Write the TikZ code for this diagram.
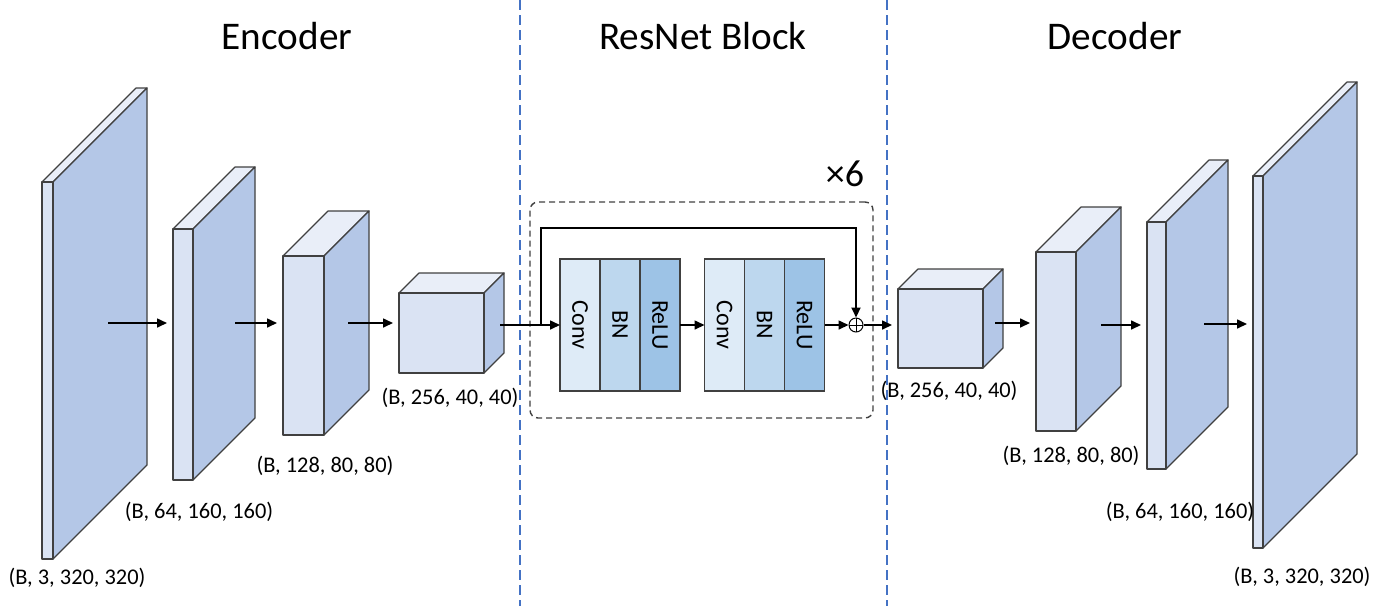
\documentclass[tikz,border=0pt]{standalone}
\usepackage{fontspec}
\setmainfont{Carlito}
\usepackage{graphicx}
\usetikzlibrary{arrows.meta,calc}
\definecolor{frontc}{HTML}{DAE3F3}
\definecolor{sidec}{HTML}{B4C7E7}
\definecolor{topc}{HTML}{E9EEF8}
\definecolor{edgec}{HTML}{404040}
\definecolor{convc}{HTML}{DEEBF7}
\definecolor{bnc}{HTML}{BDD7EE}
\definecolor{reluc}{HTML}{9DC3E6}
\definecolor{divc}{HTML}{4472C4}
\tikzset{
  face/.style={draw=edgec, line width=0.6pt, line join=round},
  arr/.style={line width=0.8pt, -{Triangle[length=5pt,width=4.5pt]}},
  gap/.style={shorten >=3pt},
  title/.style={font=\fontsize{19.6}{23}\selectfont, anchor=base, inner sep=0pt},
  dims/.style={font=\fontsize{11.2}{13}\selectfont, inner sep=0pt},
  layer/.style={draw=edgec, line width=0.6pt, minimum width=20pt, minimum height=66pt, inner sep=0pt, outer sep=0pt, font=\fontsize{12}{14}\selectfont},
  divider/.style={draw=divc, line width=0.7pt, dash pattern=on 5pt off 2.5pt},
  dashbox/.style={draw=edgec, line width=0.7pt, dash pattern=on 3pt off 2pt, rounded corners=4pt, minimum width=171.5pt, minimum height=108pt, inner sep=0pt}
}
\newcommand{\slab}[6]{%
  \filldraw[face,fill=topc] (#2,#3) -- (#4,#3) -- ++(#6,-#6) -- ++({#2-#4},0) -- cycle;
  \filldraw[face,fill=sidec] (#4,#3) -- ++(#6,-#6) -- ++(0,{#5-#3}) -- (#4,#5) -- cycle;
  \node[face,fill=frontc,inner sep=0pt,outer sep=0pt,minimum width={(#4-#2)*0.5pt},minimum height={(#5-#3)*0.5pt}] (#1) at ({(#2+#4)/2},{(#3+#5)/2}) {};
}
\begin{document}
\begin{tikzpicture}[x=0.5pt,y=-0.5pt]
\useasboundingbox (0,0) rectangle (1379,606);
% dividers
\coordinate (v1t) at (520,0); \coordinate (v1b) at (520,606);
\coordinate (v2t) at (887,0); \coordinate (v2b) at (887,606);
\draw[divider] (v1t) -- (v1b);
\draw[divider] (v2t) -- (v2b);
% titles
\node[title] (tenc) at (287,49) {Encoder};
\node[title] (tres) at (703,49) {ResNet Block};
\node[title] (tdec) at (1115,49) {Decoder};
% encoder
\slab{e1}{42}{182}{53}{559}{94}
\slab{e2}{173}{229}{193}{480}{62}
\slab{e3}{283}{256}{324}{435}{45}
\slab{e4}{399}{293}{484}{373}{20}
% decoder
\slab{d4}{898}{289}{983}{368}{20}
\slab{d3}{1036}{252}{1076}{431}{45}
\slab{d2}{1147}{222}{1166}{469}{62}
\slab{d1}{1253}{176}{1263}{548}{94}
% labels
\node[dims] (le1) at (77,578) {(B, 3, 320, 320)};
\node[dims] (le2) at (199,512) {(B, 64, 160, 160)};
\node[dims] (le3) at (325,466) {(B, 128, 80, 80)};
\node[dims] (le4) at (450,398) {(B, 256, 40, 40)};
\node[dims] (ld4) at (949,391) {(B, 256, 40, 40)};
\node[dims] (ld3) at (1071,456) {(B, 128, 80, 80)};
\node[dims] (ld2) at (1180,512) {(B, 64, 160, 160)};
\node[dims] (ld1) at (1302,577) {(B, 3, 320, 320)};
% resnet block
\node[dashbox] (rb) at (701.5,310) {};
\node[font=\fontsize{19}{22}\selectfont, inner sep=0pt] (times) at (845,174) {×6};
\node[layer, fill=convc] (c1) at (580,325) {\rotatebox{-90}{Conv}};
\node[layer, fill=bnc] (b1) at (620,325) {\rotatebox{-90}{BN}};
\node[layer, fill=reluc] (r1) at (660,325) {\rotatebox{-90}{ReLU}};
\node[layer, fill=convc] (c2) at (724.5,325) {\rotatebox{-90}{Conv}};
\node[layer, fill=bnc] (b2) at (764.5,325) {\rotatebox{-90}{BN}};
\node[layer, fill=reluc] (r2) at (804.5,325) {\rotatebox{-90}{ReLU}};
\node[circle, draw=black, line width=0.5pt, minimum size=7pt, inner sep=0pt,
  path picture={\draw[line width=0.5pt] (path picture bounding box.north) -- (path picture bounding box.south) (path picture bounding box.west) -- (path picture bounding box.east);}] (plus) at (856,325) {};
% arrows
\coordinate (a1) at (108,323);
\coordinate (a2) at (235,323);
\coordinate (a3) at (348,323);
\coordinate (a4) at (500,325);
\coordinate (sk) at (541,325);
\coordinate (a5) at (995,323);
\coordinate (a6) at (1101,325);
\coordinate (a7) at (1204,324);
\draw[arr,gap] (a1) -- (a1 -| e2.west);
\draw[arr,gap] (a2) -- (a2 -| e3.west);
\draw[arr,gap] (a3) -- (a3 -| e4.west);
\draw[arr] (a4) -- (c1.west);
\draw[arr] (r1.east) -- (c2.west);
\draw[arr] (r2.east) -- (plus.west);
\draw[arr,line width=1pt] (sk) -- ++(0,-97) -| (plus.north);
\draw[arr,gap] (plus.east) -- (plus.east -| d4.west);
\draw[arr,gap] (a5) -- (a5 -| d3.west);
\draw[arr,gap] (a6) -- (a6 -| d2.west);
\draw[arr,gap] (a7) -- (a7 -| d1.west);
\end{tikzpicture}
\end{document}
